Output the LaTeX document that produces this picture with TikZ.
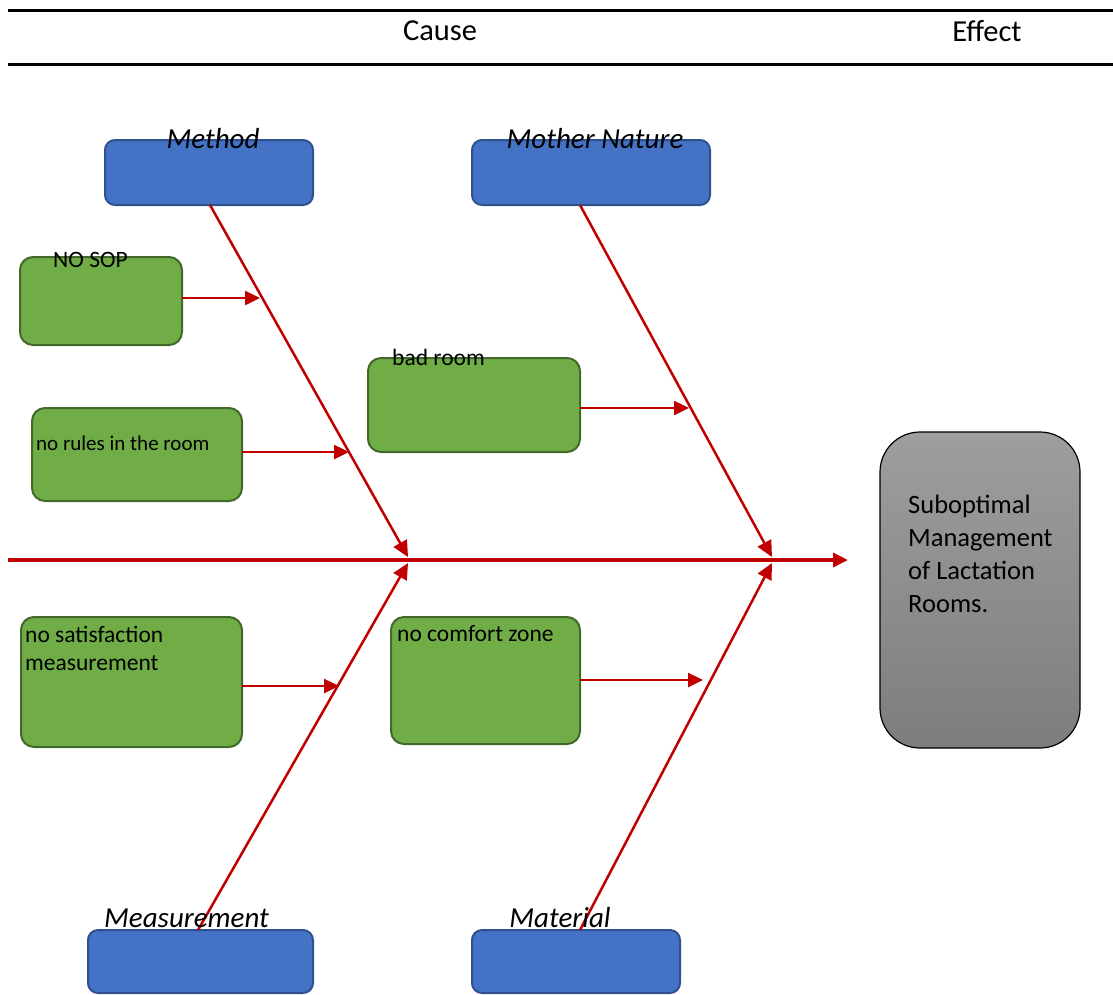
\documentclass[tikz,border=0pt]{standalone}
\usepackage{fontspec}
\setmainfont{Carlito}
\usetikzlibrary{arrows.meta,calc}
\definecolor{fbred}{HTML}{C00000}
\definecolor{fbblue}{HTML}{4472C4}
\definecolor{fbblueb}{HTML}{2F528F}
\definecolor{fbgreen}{HTML}{70AD47}
\definecolor{fbgreenb}{HTML}{43682B}
\tikzset{
  bluebox/.style={draw=fbblueb, line width=2pt, fill=fbblue, rounded corners=10pt, inner sep=0pt, outer sep=0pt},
  greenbox/.style={draw=fbgreenb, line width=2pt, fill=fbgreen, rounded corners=13pt, inner sep=0pt, outer sep=0pt},
  effectbox/.style={draw=black, line width=1.2pt, top color=black!38, bottom color=black!51, rounded corners=40pt, inner sep=0pt, outer sep=0pt},
  catlabel/.style={font=\fontsize{29}{34}\selectfont\itshape, inner sep=0pt},
  boxtext/.style={font=\fontsize{23.5}{28}\selectfont, inner sep=0pt, align=left},
  spine/.style={draw=fbred, line width=3.5pt, -{Triangle[length=15pt,width=14pt]}},
  bone/.style={draw=fbred, line width=2.5pt, -{Triangle[length=16pt,width=15pt]}},
  twig/.style={draw=fbred, line width=2.5pt, -{Triangle[length=15pt,width=14pt]}},
  rule/.style={draw=black, line width=3pt},
}
\begin{document}
\begin{tikzpicture}[x=1pt,y=-1pt]
\useasboundingbox (0,0) rectangle (1113,994);
\clip (0,0) rectangle (1113,994);
% header
\coordinate (r1a) at (8,10); \coordinate (r1b) at (1113,10);
\coordinate (r2a) at (8,64); \coordinate (r2b) at (1113,64);
\draw[rule] (r1a) -- (r1b);
\draw[rule] (r2a) -- (r2b);
\node[font=\fontsize{30.5}{36}\selectfont, inner sep=0pt] (cause) at (440,31) {Cause};
\node[font=\fontsize{30.5}{36}\selectfont, inner sep=0pt] (effect) at (987,31) {Effect};
% category boxes
\node[bluebox, minimum width=208pt, minimum height=65pt] (method) at (209,172.5) {};
\node[bluebox, minimum width=238pt, minimum height=65pt] (mnature) at (591,172.5) {};
\node[bluebox, minimum width=225pt, minimum height=63pt] (measure) at (200.5,961.5) {};
\node[bluebox, minimum width=208pt, minimum height=63pt] (material) at (576,961.5) {};
% effect box
\node[effectbox, minimum width=200pt, minimum height=316pt] (eff) at (980,590) {};
\node[font=\fontsize{26.5}{33}\selectfont, inner sep=0pt, align=left, anchor=west] (efftext) at (908,554) {Suboptimal\\Management\\of Lactation\\Rooms.};
% spine
\coordinate (s0) at (8,560);
\coordinate (s1) at (848,560);
\draw[spine] (s0) -- (s1);
% joints
\coordinate (j1a) at (408,557); \coordinate (j1b) at (408,563);
\coordinate (j2a) at (772,557); \coordinate (j2b) at (772,563);
% bones
\draw[bone] ([xshift=1pt]method.south) -- (j1a);
\draw[bone] ([xshift=-11pt]mnature.south) -- (j2a);
\draw[bone] ([xshift=-2.5pt]measure.north) -- (j1b);
\draw[bone] ([xshift=4pt]material.north) -- (j2b);
% green boxes
\node[greenbox, minimum width=162pt, minimum height=88pt] (nosop) at (101,301) {};
\node[greenbox, minimum width=210pt, minimum height=93pt] (rules) at (137,454.5) {};
\node[greenbox, minimum width=212pt, minimum height=94pt] (badroom) at (474,405) {};
\node[greenbox, minimum width=221pt, minimum height=130pt] (satis) at (131.5,682) {};
\node[greenbox, minimum width=189pt, minimum height=127pt] (comfort) at (485.5,680.5) {};
% twig tips
\coordinate (t1) at (260,298);
\coordinate (t2) at (349,452);
\coordinate (t3) at (689,408);
\coordinate (t4) at (339,686);
\coordinate (t5) at (703,680);
\draw[twig] (nosop.east |- t1) -- (t1);
\draw[twig] (rules.east |- t2) -- (t2);
\draw[twig] (badroom.east |- t3) -- (t3);
\draw[twig] (satis.east |- t4) -- (t4);
\draw[twig] (comfort.east |- t5) -- (t5);
% texts
\node[catlabel] (lmethod) at (213,139) {Method};
\node[catlabel] (lmnature) at (595,139) {Mother Nature};
\node[catlabel] (lmeasure) at (186.5,918) {Measurement};
\node[catlabel] (lmaterial) at (560,918) {Material};
\node[boxtext] (tnosop) at (90.5,260) {NO SOP};
\node[boxtext, anchor=west, font=\fontsize{21}{25}\selectfont] (trules) at (36,443) {no rules in the room};
\node[boxtext, anchor=west] (tbad) at (392,357) {bad room};
\node[boxtext, anchor=west] (tsatis) at (25,648) {no satisfaction\\measurement};
\node[boxtext, anchor=west] (tcomfort) at (397,634) {no comfort zone};
\end{tikzpicture}
\end{document}
